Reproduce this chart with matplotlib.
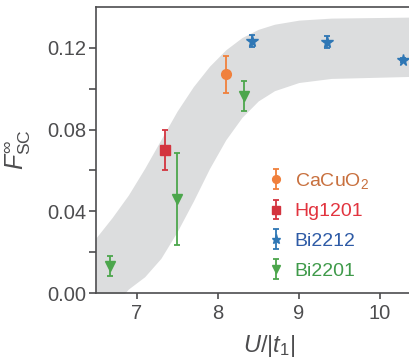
import numpy as np
import matplotlib.pyplot as plt

plt.rcParams['font.family'] = ['Liberation Sans', 'DejaVu Sans']
plt.rcParams['mathtext.fontset'] = 'custom'
plt.rcParams['mathtext.rm'] = 'Liberation Sans'
plt.rcParams['mathtext.it'] = 'Liberation Sans:italic'

# gray band
band_x = [6.5, 6.7, 6.9, 7.1, 7.3, 7.5, 7.7, 7.9, 8.1, 8.3, 8.5, 8.7, 9.0, 9.4, 10.4]
band_hi = [0.027, 0.037, 0.048, 0.061, 0.075, 0.089, 0.101, 0.111, 0.119, 0.125, 0.129,
           0.1315, 0.1335, 0.1345, 0.135]
band_lo = [-0.018, -0.007, 0.002, 0.008, 0.017, 0.030, 0.045, 0.061, 0.075, 0.086, 0.094,
           0.099, 0.103, 0.105, 0.106]

names = ['CaCuO$_2$', 'Hg1201', 'Bi2212', 'Bi2201']
u_vals = [[8.10], [7.35], [8.42, 9.35, 10.28], [6.67, 7.50, 8.33]]
f_vals = [[0.107], [0.070], [0.1234, 0.1228, 0.1138], [0.0132, 0.0462, 0.0966]]
f_errs = [[0.009], [0.010], [0.0028, 0.003, 0.001], [0.0048, 0.0225, 0.0073]]
colors = ['#F0803C', '#D3343F', '#2F77B5', '#4CA64C']
text_colors = ['#C8703E', '#E2343F', '#2E5BA6', '#3F9A4A']
markers = ['o', 's', '*', 'v']
msizes = [7, 7, 8.5, 7.5]

fig = plt.figure(figsize=(4.10, 3.61), dpi=100)
ax = fig.add_axes([0.234, 0.188, 0.766, 0.793])

ax.fill_between(band_x, band_lo, band_hi, color='#DCDDDE', lw=0, zorder=0)

handles = []
for i in range(4):
    h = ax.errorbar(u_vals[i], f_vals[i], yerr=f_errs[i], fmt=markers[i], color=colors[i],
                    ms=msizes[i], capsize=2.5, elinewidth=1.3, capthick=1.3, label=names[i])
    handles.append(h)

ax.set_xlim(6.5, 10.37)
ax.set_ylim(0, 0.14)
ax.set_xticks([7, 8, 9, 10])
ax.set_yticks([0, 0.04, 0.08, 0.12])
ax.set_yticks([0.02, 0.06, 0.10], minor=True)
ax.set_yticklabels(['0.00', '0.04', '0.08', '0.12'])

gray = '#4D4D4F'
for s in ['left', 'top', 'bottom']:
    ax.spines[s].set_color(gray)
    ax.spines[s].set_linewidth(1.2)
ax.spines['right'].set_visible(False)
ax.tick_params(axis='both', which='both', colors=gray, labelsize=14.5, width=1.2)
ax.tick_params(axis='y', which='both', length=5, pad=2)
ax.tick_params(axis='x', which='major', length=4, pad=4)

ax.set_xlabel('$U/|t_1|$', fontsize=17, color=gray)
ax.xaxis.set_label_coords(0.55, -0.14)
ax.set_ylabel(r'$F_{\rm SC}^{\infty}$', fontsize=18, color=gray)
ax.yaxis.set_label_coords(-0.2, 0.5)

leg = ax.legend(handles=handles, loc='upper left', bbox_to_anchor=(0.525, 0.455), frameon=False,
                fontsize=14, handlelength=0.8, handletextpad=0.55, labelspacing=0.62,
                borderaxespad=0, markerscale=0.8)
for t, c in zip(leg.get_texts(), text_colors):
    t.set_color(c)

fig.savefig('out.png', dpi=100)
